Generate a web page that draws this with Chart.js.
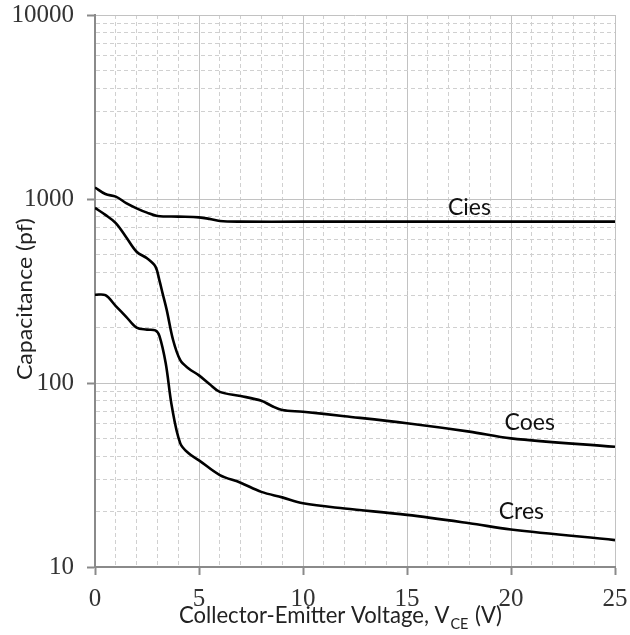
<!DOCTYPE html>
<html><head><meta charset="utf-8">
<script src="https://cdn.jsdelivr.net/npm/chart.js@4/dist/chart.umd.min.js"></script>
<style>html,body{margin:0;padding:0;background:#fff}#wrap{width:630px;height:635px;position:relative}</style>
</head><body><div id="wrap"><canvas id="c" width="630" height="635"></canvas></div>
<script>
// ---- data ----
const ciesV = [0, 0.5, 1, 1.5, 2, 2.5, 3, 4, 5, 5.5, 6, 7, 10, 15, 20, 25];
const ciesC = [1155, 1064, 1030, 950, 890, 843, 809, 802, 795, 780, 759, 753, 753, 753, 753, 753];

const coesV = [0, 0.5, 1, 1.5, 2, 2.5, 2.9, 3.1, 3.25, 3.45, 3.75, 4.1, 4.5, 5, 5.5, 6, 7, 8, 8.5, 9, 10, 12, 15, 18, 20, 25];
const coesC = [895, 820, 740, 620, 517, 476, 430, 360, 307, 249, 172, 133, 120, 110, 98.8, 89.5, 85, 80, 75, 71.3, 69.8, 66, 60.4, 54.4, 50, 45];

const cresV = [0, 0.5, 1, 1.5, 2, 2.5, 2.9, 3.1, 3.4, 3.7, 4.1, 4.5, 5, 6, 7, 8, 9, 10, 12, 15, 18, 20, 25];
const cresC = [302, 300, 262, 229, 200, 195, 193, 180, 128, 74, 47, 41.5, 38, 31.6, 28.7, 25.6, 23.9, 22.2, 20.8, 19.2, 17.3, 16, 14];

const seriesNames = ['Cies', 'Coes', 'Cres'];
const xTickLabels = [0, 5, 10, 15, 20, 25];
const yTickLabels = [10, 100, 1000, 10000];
const xTitle = ['Collector-Emitter Voltage, V', 'CE', ' (V)'];
const yTitle = 'Capacitance (pf)';

// label anchor points in data units
const seriesLabelAt = { Cies: [18.0, 893], Coes: [20.9, 60.6], Cres: [20.5, 19.9] };

function pts(xs, ys) { return xs.map((x, i) => ({ x: x, y: ys[i] })); }

const isMajorX = v => v % 5 === 0;
const isMajorY = v => yTickLabels.includes(v);

const annotatePlugin = {
  id: 'annotate',
  afterDraw(chart) {
    const ctx = chart.ctx;
    const xs = chart.scales.x, ys = chart.scales.y;
    ctx.save();
    ctx.fillStyle = '#111';
    ctx.font = '23px Lato';
    ctx.textAlign = 'center';
    ctx.textBaseline = 'middle';
    seriesNames.forEach(n => {
      const p = seriesLabelAt[n];
      ctx.fillText(n, xs.getPixelForValue(p[0]), ys.getPixelForValue(p[1]));
    });
    // x title with subscript
    const mainFont = '23px Lato', subFont = '15px Lato';
    ctx.textAlign = 'left';
    ctx.textBaseline = 'alphabetic';
    ctx.font = mainFont; const w1 = ctx.measureText(xTitle[0]).width; const w3 = ctx.measureText(xTitle[2]).width;
    ctx.font = subFont; const w2 = ctx.measureText(xTitle[1]).width;
    const sx = 323 / (w1 + w2 + w3 + 2);
    ctx.save();
    ctx.translate(179, 623);
    ctx.scale(sx, 1);
    ctx.fillStyle = '#222';
    ctx.font = mainFont; ctx.fillText(xTitle[0], 0, 0);
    ctx.font = subFont; ctx.fillText(xTitle[1], w1 + 1, 6);
    ctx.font = mainFont; ctx.fillText(xTitle[2], w1 + w2 + 2, 0);
    ctx.restore();
    // y title
    ctx.save();
    ctx.translate(25, 299);
    ctx.rotate(-Math.PI / 2);
    ctx.font = '21px Lato';
    const wy = ctx.measureText(yTitle).width;
    ctx.scale(162 / wy, 1);
    ctx.textAlign = 'center';
    ctx.textBaseline = 'middle';
    ctx.fillStyle = '#222';
    ctx.fillText(yTitle, 0, 0);
    ctx.restore();
    ctx.restore();
  }
};

const lineStyle = { borderColor: '#000', borderWidth: 2.6, pointRadius: 0, fill: false, tension: 0.35 };

new Chart(document.getElementById('c'), {
  type: 'line',
  data: {
    datasets: [
      Object.assign({ label: seriesNames[0], data: pts(ciesV, ciesC) }, lineStyle),
      Object.assign({ label: seriesNames[1], data: pts(coesV, coesC) }, lineStyle),
      Object.assign({ label: seriesNames[2], data: pts(cresV, cresC) }, lineStyle)
    ]
  },
  options: {
    responsive: false,
    animation: false,
    devicePixelRatio: 1,
    layout: { padding: { top: 15, right: 15, left: 0, bottom: 0 } },
    plugins: { legend: { display: false }, tooltip: { enabled: false } },
    scales: {
      x: {
        type: 'linear', min: 0, max: 25,
        afterBuildTicks: s => { const t = []; for (let v = 0; v <= 25; v++) t.push({ value: v }); s.ticks = t; },
        afterFit: s => { s.height = 68; s.paddingLeft = 0; s.paddingRight = 0; },
        ticks: {
          autoSkip: false, maxRotation: 0, padding: 9,
          callback: v => xTickLabels.includes(v) ? String(v) : '',
          font: { family: 'Liberation Serif', size: 25 }, color: '#333'
        },
        grid: {
          color: c => (c.tick && isMajorX(c.tick.value)) ? '#c2c2c2' : '#d0d0d0',
          lineWidth: 1,
          tickLength: 8,
          tickWidth: 2,
          tickColor: c => (c.tick && isMajorX(c.tick.value)) ? '#8a8a8a' : 'rgba(0,0,0,0)'
        },
        border: { display: true, color: '#8a8a8a', width: 2, dash: c => (c.tick && !isMajorX(c.tick.value)) ? [4, 3] : [] }
      },
      y: {
        type: 'logarithmic', min: 10, max: 10000,
        afterBuildTicks: s => {
          const t = [];
          for (let e = 1; e <= 3; e++) for (let m = 1; m <= 9; m++) t.push({ value: m * Math.pow(10, e) });
          t.push({ value: 10000 });
          s.ticks = t;
        },
        afterFit: s => { s.width = 95; s.paddingTop = 0; s.paddingBottom = 0; },
        ticks: {
          autoSkip: false, padding: 13,
          callback: v => yTickLabels.includes(v) ? String(v) : '',
          font: { family: 'Liberation Serif', size: 25 }, color: '#333'
        },
        grid: {
          color: c => (c.tick && isMajorY(c.tick.value)) ? '#c2c2c2' : '#d0d0d0',
          lineWidth: 1,
          tickLength: 8,
          tickWidth: 2,
          tickColor: c => (c.tick && isMajorY(c.tick.value)) ? '#8a8a8a' : 'rgba(0,0,0,0)'
        },
        border: { display: true, color: '#8a8a8a', width: 2, dash: c => (c.tick && !isMajorY(c.tick.value)) ? [4, 3] : [] }
      }
    }
  },
  plugins: [annotatePlugin]
});
</script></body></html>
